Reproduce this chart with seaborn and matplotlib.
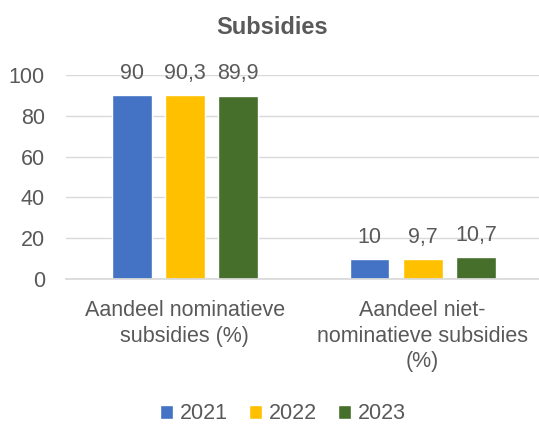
import matplotlib
matplotlib.use("Agg")
import matplotlib.pyplot as plt
import pandas as pd
import seaborn as sns

categories = ["Aandeel nominatieve\nsubsidies (%)",
              "Aandeel niet-\nnominatieve subsidies\n(%)"]
years = ["2021", "2022", "2023"]
values_2021 = [90, 10]
values_2022 = [90.3, 9.7]
values_2023 = [89.9, 10.7]
colors = ["#4472C4", "#FFC000", "#456F2A"]

rows = []
for year, vals in zip(years, [values_2021, values_2022, values_2023]):
    for cat, v in zip(categories, vals):
        rows.append({"cat": cat, "year": year, "value": v})
df = pd.DataFrame(rows)

sns.set_theme(style="white")
plt.rcParams["font.family"] = ["Liberation Sans", "DejaVu Sans"]
text_col = "#595959"
fs = 15.5

fig = plt.figure(figsize=(5.39, 4.28), dpi=100)
ax = fig.add_axes([0.122, 0.348, 0.883, 0.477])
ax.set_axisbelow(True)
ax.yaxis.grid(True, color="#D9D9D9", linewidth=1.0)
sns.barplot(data=df, x="cat", y="value", hue="year", palette=colors,
            width=0.67, gap=0.25, ax=ax, saturation=1)

for cont in ax.containers:
    labels = [f"{v:g}".replace(".", ",") for v in cont.datavalues]
    ax.bar_label(cont, labels=labels, padding=8, fontsize=fs, color=text_col, clip_on=False)

ax.set_ylim(0, 100)
ax.set_xlim(-0.5, 1.5)
ax.set_yticks(range(0, 101, 20))
ax.set_xlabel("")
ax.set_ylabel("")
ax.tick_params(axis="both", labelsize=fs, colors=text_col, length=0)
ax.tick_params(axis="y", pad=15)
ax.tick_params(axis="x", pad=15)
for lbl in ax.get_xticklabels():
    lbl.set_linespacing(1.3)
for s in ["top", "right", "left"]:
    ax.spines[s].set_visible(False)
ax.spines["bottom"].set_color("#D9D9D9")

fig.text(0.505, 0.935, "Subsidies", ha="center", va="center", fontsize=17,
         fontweight="bold", color=text_col)

handles, labs = ax.get_legend_handles_labels()
ax.legend_.remove()
fig.legend(handles, labs, loc="center", bbox_to_anchor=(0.525, 0.033), ncol=3,
           frameon=False, fontsize=fs, handlelength=0.6, handleheight=0.6,
           columnspacing=1.0, handletextpad=0.3, labelcolor=text_col)

fig.savefig("out.png", dpi=100)
